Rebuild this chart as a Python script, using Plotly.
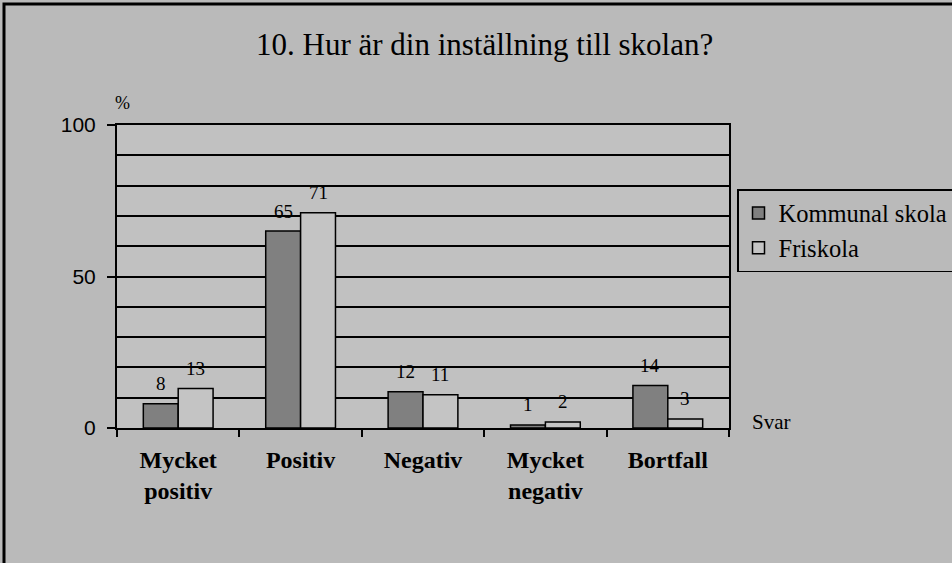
import plotly.graph_objects as go

categories = ["Mycket positiv", "Positiv", "Negativ", "Mycket negativ", "Bortfall"]
tick_labels = ["<b>Mycket<br>positiv</b>", "<b>Positiv</b>", "<b>Negativ</b>", "<b>Mycket<br>negativ</b>", "<b>Bortfall</b>"]
kommunal = [8, 65, 12, 1, 14]
friskola = [13, 71, 11, 2, 3]
series_names = ["Kommunal skola", "Friskola"]

SERIF = "Liberation Serif, Times New Roman, serif"
SANS = "Liberation Sans, Arial, sans-serif"

W, H = 952, 563
L, R, T, B = 117, 223, 125, 135
pw = W - L - R
ph = H - T - B
BARGAP = 0.43

def px_x(x):
    return (x - L) / pw

def px_y(y):
    return (H - B - y) / ph

fig = go.Figure()
series = [(series_names[0], kommunal, "#808080"), (series_names[1], friskola, "#c4c4c4")]
for name, vals, color in series:
    fig.add_trace(go.Bar(
        x=categories, y=vals, name=name,
        marker=dict(color=color, line=dict(color="black", width=1.5)),
        cliponaxis=False,
    ))

# value labels above bars
bar_w = pw / len(categories) * (1 - BARGAP) / 2
annotations = []
for i, (name, vals, color) in enumerate(series):
    shift = (i - 0.5) * bar_w
    for c, v in zip(categories, vals):
        annotations.append(dict(
            x=c, y=v, xref="x", yref="y", text=str(v), showarrow=False,
            xshift=shift, yshift=20, xanchor="center", yanchor="middle",
            font=dict(family=SERIF, size=19, color="black"),
        ))

annotations += [
    dict(text="10. Hur är din inställning till skolan?", xref="paper", yref="paper",
         x=px_x(484), y=px_y(45), xanchor="center", yanchor="middle", showarrow=False,
         font=dict(family=SERIF, size=31, color="black")),
    dict(text="%", xref="paper", yref="paper",
         x=px_x(113), y=px_y(103), xanchor="left", yanchor="middle", showarrow=False,
         font=dict(family=SERIF, size=18, color="black")),
    dict(text="Svar", xref="paper", yref="paper",
         x=px_x(750), y=px_y(422), xanchor="left", yanchor="middle", showarrow=False,
         font=dict(family=SERIF, size=21, color="black")),
]

fig.update_layout(
    width=W, height=H,
    margin=dict(l=L, r=R, t=T, b=B, autoexpand=False),
    paper_bgcolor="#bababa",
    plot_bgcolor="#c1c1c1",
    barmode="group",
    bargap=BARGAP,
    bargroupgap=0,
    showlegend=True,
    legend=dict(
        x=px_x(737), y=px_y(189), xanchor="left", yanchor="top",
        bgcolor="#bababa", bordercolor="black", borderwidth=1.5,
        font=dict(family=SERIF, size=24.5, color="black"),
        tracegroupgap=0,
    ),
    xaxis=dict(
        tickmode="array", tickvals=categories, ticktext=tick_labels,
        tickfont=dict(family=SERIF, size=24, color="black"),
        showline=True, linecolor="black", linewidth=2, mirror=True,
        ticks="outside", ticklen=7, tickwidth=2, tickcolor="black",
        tickson="boundaries", showgrid=False,
        ticklabelstandoff=9,
    ),
    yaxis=dict(
        range=[0, 100], tickvals=[0, 50, 100],
        tickfont=dict(family=SANS, size=21, color="black"),
        showline=True, linecolor="black", linewidth=2, mirror=True,
        ticks="outside", ticklen=8, tickwidth=2, tickcolor="black",
        showgrid=True, gridcolor="black", gridwidth=1.5,
        minor=dict(dtick=10, showgrid=True, gridcolor="black", gridwidth=1.5, ticks=""),
        zeroline=False,
        ticklabelstandoff=7,
    ),
    annotations=annotations,
    shapes=[
        dict(type="rect", xref="paper", yref="paper",
             x0=px_x(4), x1=px_x(970), y0=px_y(4), y1=px_y(580),
             line=dict(color="black", width=3), fillcolor="rgba(0,0,0,0)", layer="above"),
    ],
)

fig.write_html(
    "out.html",
    config={"displayModeBar": False},
    post_script="document.documentElement.style.margin='0';document.body.style.margin='0';document.body.style.overflow='hidden';",
)
